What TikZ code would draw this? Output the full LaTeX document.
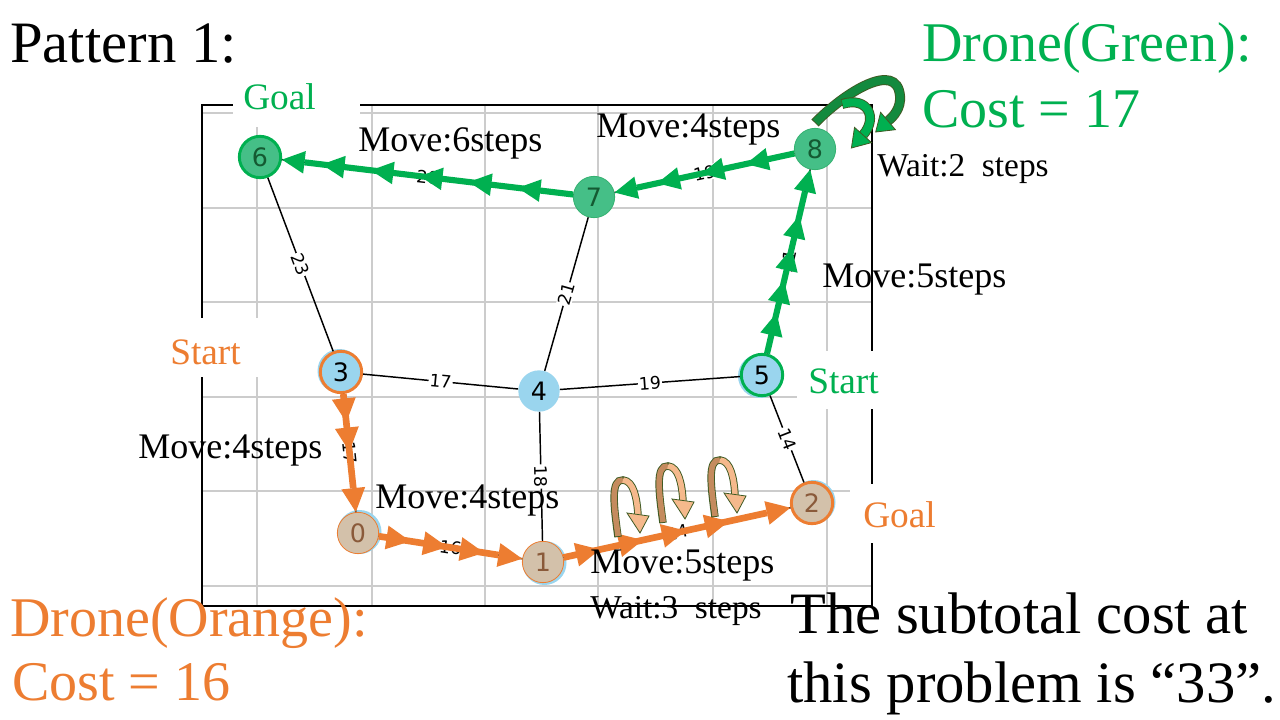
\documentclass[tikz,border=0pt]{standalone}
\usepackage{fontspec}
\setmainfont{Liberation Serif}
\newfontfamily\dejavu{DejaVu Sans}
\usetikzlibrary{arrows.meta,decorations.markings,calc}
\definecolor{gr}{HTML}{00B050}
\definecolor{orng}{HTML}{ED7D31}
\definecolor{gnode}{HTML}{45BF87}
\definecolor{gnodeb}{HTML}{35B271}
\definecolor{bnode}{HTML}{9AD5EE}
\definecolor{tnode}{HTML}{D3C1AA}
\definecolor{tntext}{HTML}{8A5A3A}
\definecolor{gtext}{HTML}{145A32}
\definecolor{gridc}{HTML}{CCCCCC}
\definecolor{loopout}{HTML}{3F5A23}
\definecolor{loopdark}{HTML}{C48B5E}
\definecolor{looplight}{HTML}{F5B98C}
\definecolor{gdark}{HTML}{138A3E}
\tikzset{
  gn/.style={circle, minimum size=31pt, inner sep=0pt, font=\dejavu\fontsize{19}{19}\selectfont},
  elab/.style={fill=white, inner sep=0.8pt, sloped, font=\dejavu\fontsize{13}{13}\selectfont},
  lnk/.style={draw=black, line width=1.1pt},
  gpath/.style={draw=gr, line width=4.6pt, -{Triangle[length=17pt,width=17pt,line width=0pt]}},
  opath/.style={draw=orng, line width=5pt, -{Triangle[length=18pt,width=18pt,line width=0pt]}},
  amarks/.style n args={5}{postaction={decorate}, decoration={markings, mark=between positions #1 and #2 step #3 with {\arrow{Triangle[length=#4,width=#5,line width=0pt]}}}},
  txt/.style={anchor=base west, inner sep=0pt},
  big/.style={font=\fontsize{44}{48}\selectfont},
  dr/.style={font=\fontsize{42}{46}\selectfont},
  lab/.style={font=\fontsize{28}{30}\selectfont},
  mv/.style={font=\fontsize{27}{29}\selectfont},
  wt/.style={font=\fontsize{25}{27}\selectfont},
  cover/.style={fill=white, draw=none},
}
\begin{document}
\begin{tikzpicture}[x=0.75pt, y=-0.75pt]
\useasboundingbox (0,0) rectangle (1280,720);
\fill[white] (0,0) rectangle (1280,720);
% grid
\foreach \gx in {257,372,485,598,713,827} \draw[gridc, line width=1.1pt] (\gx,105) -- (\gx,606);
\foreach \gy in {113,208,302,397,491,586} \draw[gridc, line width=1.1pt] (202,\gy) -- (872,\gy);
% frame
\draw[black, line width=1.1pt] (202,105) rectangle (872,606);
% white covers behind labels
\fill[cover] (233,75) rectangle (360,127);
\fill[cover] (160,318) rectangle (262,377);
\fill[cover] (797,351) rectangle (895,409);
\fill[cover] (850,484) rectangle (945,543);
% halos
\fill[bnode] (359.5,532) circle (16.5pt);
\fill[bnode] (544.5,563) circle (16.5pt);
\fill[bnode] (813.5,502) circle (16.5pt);
\fill[bnode] (760,376) circle (16.5pt);
\fill[bnode] (339.5,371) circle (16.5pt);
% nodes
\node[gn, fill=gnode, draw=gr, line width=2.2pt, text=gtext] (n6) at (260,157) {6};
\node[gn, fill=gnode, draw=gnodeb, line width=0.6pt, text=gtext] (n7) at (594,197) {7};
\node[gn, fill=gnode, draw=gnodeb, line width=0.6pt, text=gtext] (n8) at (815,149) {8};
\node[gn, fill=bnode, draw=orng, line width=2.2pt] (n3) at (341,372) {3};
\node[gn, fill=bnode] (n4) at (539,391) {4};
\node[gn, fill=bnode, draw=gr, line width=2.2pt] (n5) at (762,375) {5};
\node[gn, fill=tnode, draw=orng, line width=0.6pt, text=tntext] (n0) at (358,533) {0};
\node[gn, fill=tnode, draw=orng, line width=0.6pt, text=tntext] (n1) at (543,562) {1};
\node[gn, fill=tnode, draw=orng, line width=2.2pt, text=tntext] (n2) at (812,503) {2};
% edges
\draw[lnk] (n6) -- node[elab]{23} (n3);
\draw[lnk] (n6) -- node[elab]{20} (n7);
\draw[lnk] (n7) -- node[elab]{19} (n8);
\draw[lnk] (n7) -- node[elab]{21} (n4);
\draw[lnk] (n3) -- node[elab]{17} (n4);
\draw[lnk] (n4) -- node[elab]{19} (n5);
\draw[lnk] (n5) -- node[elab]{21} (n8);
\draw[lnk] (n5) -- node[elab]{14} (n2);
\draw[lnk] (n3) -- node[elab]{17} (n0);
\draw[lnk] (n4) -- node[elab]{18} (n1);
\draw[lnk] (n0) -- node[elab]{16} (n1);
\draw[lnk] (n1) -- node[elab]{24} (n2);
% green route
\draw[gpath, amarks={0.22}{0.85}{25pt}{17pt}{17pt}] (n5) -- (n8);
\draw[gpath, amarks={0.27}{0.8}{34pt}{17pt}{17pt}] (n8) -- (n7);
\draw[gpath, amarks={0.19}{0.9}{37pt}{17pt}{17pt}] (n7) -- (n6);
% orange route
\draw[opath, amarks={0.24}{0.7}{22pt}{18pt}{18pt}] (n3) -- (n0);
\draw[opath, amarks={0.22}{0.8}{28pt}{18pt}{18pt}] (n0) -- (n1);
\draw[opath, amarks={0.16}{0.8}{33pt}{18pt}{18pt}] (n1) -- (n2);
% orange wait loops
\foreach \sx/\sy in {618/537, 663/523, 715/517}{
\begin{scope}[shift={(\sx,\sy)}]
 \draw[loopout, line width=5.6pt] (0,0) .. controls (-4,-30) and (-8,-58) .. (5,-57) .. controls (16,-56) and (19,-38) .. (20,-22);
 \draw[loopdark, line width=4.2pt] (0.1,-1) .. controls (-4,-30) and (-8,-58) .. (5,-57);
 \draw[looplight, line width=4.2pt] (5,-57) .. controls (16,-56) and (19,-38) .. (20,-22);
 \filldraw[fill=looplight, draw=loopout, line width=0.6pt] (9,-24) -- (31,-21) -- (22,-4) -- cycle;
\end{scope}}
% green wait arrows
\draw[loopout, line width=7.5pt] (815,123) .. controls (845,92) and (897,60) .. (900,96) .. controls (901,108) and (894,116) .. (888,121);
\draw[gdark, line width=6.1pt] (815.7,122.3) .. controls (845,92) and (897,60) .. (900,96) .. controls (901,108) and (894,116) .. (888,121);
\filldraw[fill=gr, draw=loopout, line width=0.6pt] (895.4,129.7) -- (880.6,112.3) -- (875.7,132) -- cycle;
\draw[loopout, line width=7.5pt] (842,104) .. controls (868,96) and (878,118) .. (863,135);
\draw[gr, line width=6.1pt] (842.6,104) .. controls (868,96) and (878,118) .. (863,135);
\filldraw[fill=gr, draw=loopout, line width=0.6pt] (871.5,142.6) -- (854.5,127.4) -- (851.4,148) -- cycle;
% labels
\node[txt, lab, text=gr] (goalg) at (243,110) {Goal};
\node[txt, lab, text=orng] (starto) at (170,364) {Start};
\node[txt, lab, text=gr] (startg) at (808,393) {Start};
\node[txt, lab, text=orng] (goalo) at (863,527) {Goal};
\node[txt, mv] (m6) at (358,152) {Move:6steps};
\node[txt, mv] (m4a) at (596,138) {Move:4steps};
\node[txt, wt] (w2) at (877,177) {Wait:2~~steps};
\node[txt, mv] (m5a) at (822,287) {Move:5steps};
\node[txt, mv] (m4b) at (138,458) {Move:4steps};
\node[txt, mv] (m4c) at (375,508) {Move:4steps};
\node[txt, mv] (m5b) at (590,573) {Move:5steps};
\node[txt, wt] (w3) at (590,618) {Wait:3~~steps};
\node[txt, big] (title) at (10,63) {Pattern 1:};
\node[txt, dr, text=gr] (dg1) at (922,62) {Drone(Green):};
\node[txt, dr, text=gr] (dg2) at (922,128) {Cost = 17};
\node[txt, dr, text=orng] (do1) at (10,636) {Drone(Orange):};
\node[txt, dr, text=orng] (do2) at (12,700) {Cost = 16};
\node[txt, big] (s1) at (790,633) {The subtotal cost at};
\node[txt, big] (s2) at (787,702) {this problem is “33”.};
\end{tikzpicture}
\end{document}
